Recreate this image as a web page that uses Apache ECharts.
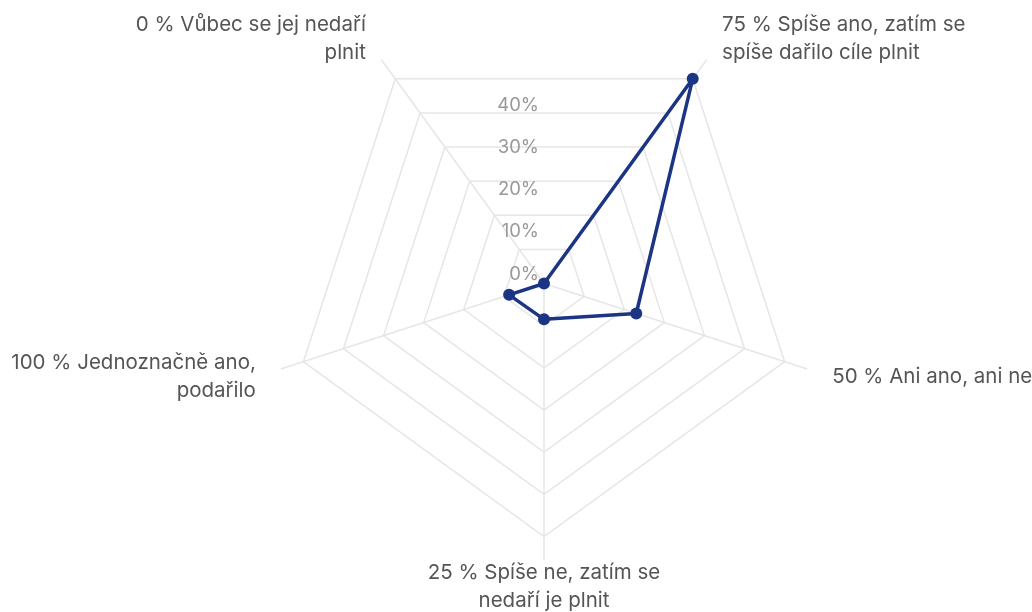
<!DOCTYPE html>
<html>
<head>
<meta charset="utf-8">
<script src="https://cdn.jsdelivr.net/npm/echarts@6/dist/echarts.min.js"></script>
<style>
  html, body { margin: 0; padding: 0; background: #fff; }
  #chart { width: 1032px; height: 612px; }
</style>
</head>
<body>
<div id="chart"></div>
<script>
// indicators in drawing order (counter-clockwise from top-left)
const categories = [
  '0 % Vůbec se jej nedaří\nplnit',
  '100 % Jednoznačně ano,\npodařilo',
  '25 % Spíše ne, zatím se\nnedaří je plnit',
  '50 % Ani ano, ani ne',
  '75 % Spíše ano, zatím se\nspíše dařilo cíle plnit'
]
const values = [0, 8.7, 8.5, 23, 60]
const tickLabels = ['0%', '10%', '20%', '30%', '40%']
const maxValue = 60

const center = [544, 283.5]
const gridColor = '#e6e6e6'

let myChart = echarts.init(document.getElementById('chart'))

let option = {
  textStyle: { fontFamily: 'Inter' },
  radar: [
    {
      // rings + names
      center: center,
      radius: 253,
      startAngle: 126,
      shape: 'polygon',
      splitNumber: 6,
      axisNameGap: 50,
      axisName: {
        color: '#555555',
        fontSize: 20.5,
        lineHeight: 28,
        fontFamily: 'Inter'
      },
      indicator: categories.map((c, i) => {
        let ind = { name: c, max: maxValue, min: 0 }
        if (i === 2) ind.nameGap = 22
        return ind
      }),
      splitLine: { lineStyle: { color: gridColor, width: 1.5 } },
      splitArea: { show: false },
      axisLine: { show: false }
    },
    {
      // spokes, a bit longer than the rings
      center: center,
      radius: 276,
      startAngle: 126,
      shape: 'polygon',
      axisName: { show: false },
      indicator: categories.map(c => ({ name: c, max: maxValue, min: 0 })),
      splitLine: { show: false },
      splitArea: { show: false },
      axisLine: { lineStyle: { color: gridColor, width: 1.5 } }
    },
    {
      // vertical tick labels
      center: center,
      radius: 253,
      startAngle: 90,
      shape: 'polygon',
      splitNumber: 6,
      axisName: { show: false },
      indicator: categories.map((c, i) => ({
        name: c, max: maxValue, min: 0,
        axisLabel: { show: i === 0 }
      })),
      axisLabel: {
        show: false,
        align: 'right',
        verticalAlign: 'bottom',
        margin: 5,
        color: '#999999',
        fontSize: 18.5,
        fontFamily: 'Inter',
        formatter: function (v) {
          return tickLabels[Math.round(v / 10)] || ''
        }
      },
      splitLine: { show: false },
      splitArea: { show: false },
      axisLine: { show: false },
      axisTick: { show: false }
    }
  ],
  series: [
    {
      type: 'radar',
      radarIndex: 0,
      symbol: 'circle',
      symbolSize: 12,
      lineStyle: { color: '#1b3584', width: 3.5 },
      itemStyle: { color: '#1b3584' },
      areaStyle: null,
      data: [{ value: values }]
    }
  ]
}

myChart.setOption(option)
</script>
</body>
</html>
